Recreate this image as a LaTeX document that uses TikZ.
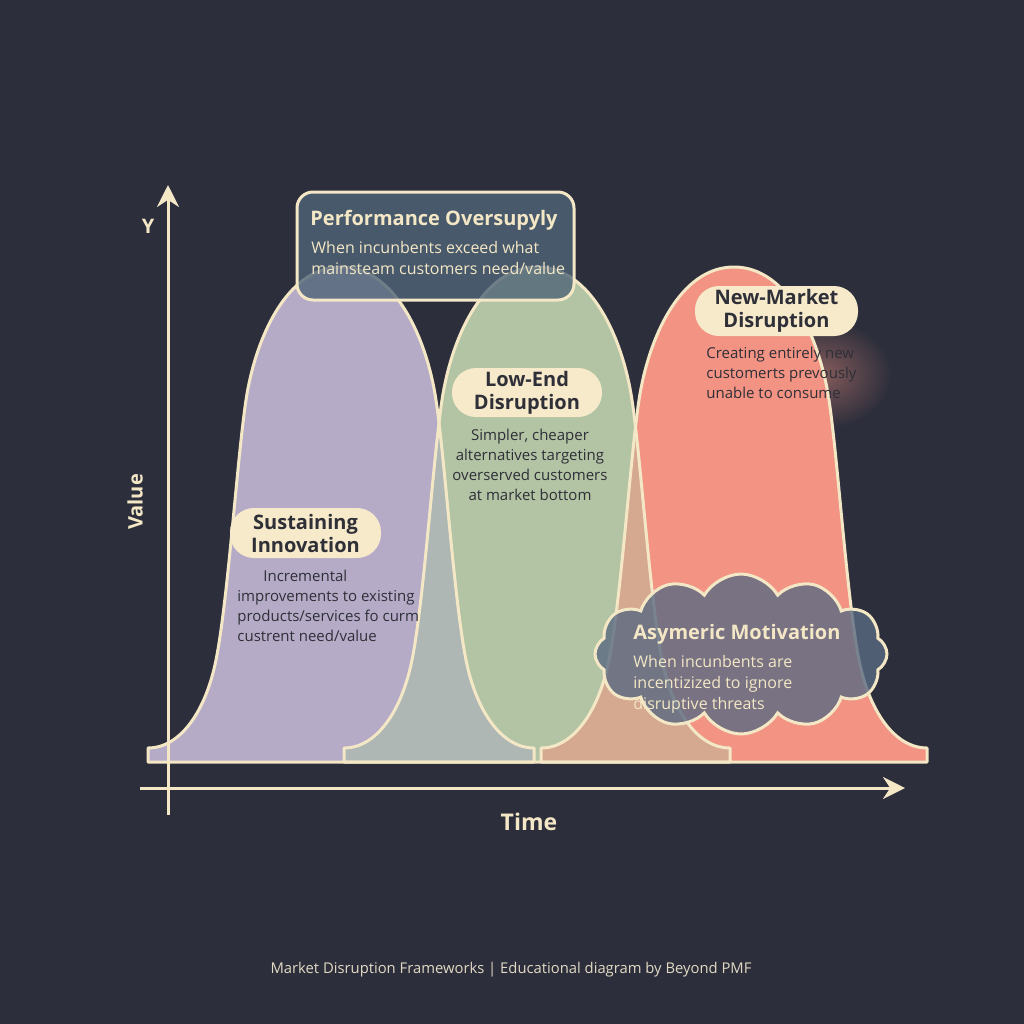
\documentclass[tikz,border=0pt]{standalone}
\usepackage{fontspec}
\setmainfont{Open Sans}
\usetikzlibrary{arrows.meta,shapes.symbols}
\definecolor{bg}{HTML}{2C2E3B}
\definecolor{cream}{HTML}{F3E7C6}
\definecolor{pillfill}{HTML}{F6EACB}
\definecolor{purp}{HTML}{B5ABC7}
\definecolor{grn}{HTML}{B2C4A4}
\definecolor{rd}{HTML}{F29383}
\definecolor{pgmix}{HTML}{AEB7B4}
\definecolor{grmix}{HTML}{D5A890}
\definecolor{boxfill}{HTML}{506478}
\definecolor{cloudfill}{HTML}{5A6A82}
\definecolor{ink}{HTML}{2F2F38}
\definecolor{foot}{HTML}{E2DAC4}
\newcommand{\bellshape}[1]{(#1-193,762) -- (#1-193,748) .. controls (#1-160,748) and (#1-135,710) .. (#1-125,660) .. controls (#1-113,600) and (#1-104,460) .. (#1-95,400) .. controls (#1-86,340) and (#1-55,267) .. (#1,267) .. controls (#1+55,267) and (#1+86,340) .. (#1+95,400) .. controls (#1+104,460) and (#1+113,600) .. (#1+125,660) .. controls (#1+135,710) and (#1+160,748) .. (#1+193,748) -- (#1+193,762) -- cycle}
\begin{document}
\begin{tikzpicture}[x=0.5pt,y=-0.5pt,
  outl/.style={draw=cream, line width=1.5pt, line join=round},
  pill/.style={fill=pillfill, rounded corners=12pt, inner sep=0pt, align=center,
    font=\bfseries\fontsize{10}{11.5}\selectfont, text=ink},
  body/.style={inner sep=0pt, font=\fontsize{7.5}{10}\selectfont, text=ink},
  lightbody/.style={inner sep=0pt, font=\fontsize{8}{10.5}\selectfont, text=cream},
  heading/.style={inner sep=0pt, font=\bfseries\fontsize{10}{12}\selectfont, text=cream},
  axisline/.style={draw=cream, line width=1.5pt, -{Stealth[length=11pt,width=11pt]}}]
\fill[bg] (0,0) rectangle (1024,1024);
\useasboundingbox (0,0) rectangle (1024,1024);
% fills
\fill[purp] \bellshape{341};
\fill[grn] \bellshape{537};
\shade[inner color=rd!45!bg, outer color=bg] (822,374) ellipse (70 and 55);
\fill[rd] \bellshape{734};
\begin{scope}
  \clip \bellshape{341};
  \fill[pgmix] \bellshape{537};
\end{scope}
\begin{scope}
  \clip \bellshape{537};
  \fill[grmix] \bellshape{734};
\end{scope}
% outlines
\draw[outl] \bellshape{341};
\draw[outl] \bellshape{537};
\draw[outl] \bellshape{734};
% axes
\coordinate (yb) at (168,815);
\coordinate (yt) at (168,185);
\coordinate (xl) at (140,788);
\coordinate (xr) at (905,788);
\draw[axisline] (yb) -- (yt);
\draw[axisline] (xl) -- (xr);
\node[inner sep=0pt, font=\bfseries\fontsize{10}{12}\selectfont, text=cream] (ylab) at (148,226) {Y};
\node[inner sep=0pt, font=\bfseries\fontsize{10}{12}\selectfont, text=cream, rotate=90] (vlab) at (135,502) {Value};
\node[inner sep=0pt, font=\bfseries\fontsize{11.5}{13}\selectfont, text=cream] (tlab) at (529,822) {Time};
% oversupply box
\node[draw=cream, line width=1.5pt, fill=boxfill, fill opacity=0.8, rounded corners=8pt,
  minimum width=138.5pt, minimum height=54pt, inner sep=0pt] (ovbox) at (435.5,246) {};
\node[heading, anchor=north west] (ovtitle) at (310,210) {Performance Oversupyly};
\node[lightbody, anchor=north west, align=left] (ovbody) at (311,241)
  {When incunbents exceed what\\mainsteam customers need/value};
% pills
\node[pill, minimum width=75.5pt, minimum height=25pt] (sustpill) at (305.5,533) {Sustaining\\Innovation};
\node[pill, minimum width=75pt, minimum height=24.5pt] (lowpill) at (527,392.5) {Low-End\\Disruption};
\node[pill, minimum width=81.5pt, minimum height=25pt] (newpill) at (776.5,311) {New-Market\\Disruption};
% bodies
\node[body, anchor=north west, align=left] (sustbody) at (237,570)
  {\hspace*{13pt}Incremental\\improvements to existing\\products/services fo curm\\custrent need/value};
\node[body, anchor=north, align=center] (lowbody) at (530,429)
  {Simpler, cheaper\\alternatives targeting\\overserved customers\\at market bottom};
\node[body, anchor=north west, align=left] (newbody) at (706,347)
  {Creating entirely new\\customerts prevously\\unable to consume};
% cloud
\node[cloud, cloud puffs=12, cloud puff arc=120, aspect=2, draw=cream, line width=1.5pt,
  fill=cloudfill, fill opacity=0.8, minimum width=146pt, minimum height=80pt, inner sep=0pt] (cloudn) at (741,654) {};
\node[heading, anchor=north west] (cloudtitle) at (633,624) {Asymeric Motivation};
\node[lightbody, anchor=north west, align=left] (cloudbody) at (633,655)
  {When incunbents are\\incentizized to ignore\\disruptive threats};
% footer
\node[inner sep=0pt, font=\fontsize{7.4}{8}\selectfont, text=foot] (footer) at (511,970)
  {Market Disruption Frameworks | Educational diagram by Beyond PMF};
\end{tikzpicture}
\end{document}
